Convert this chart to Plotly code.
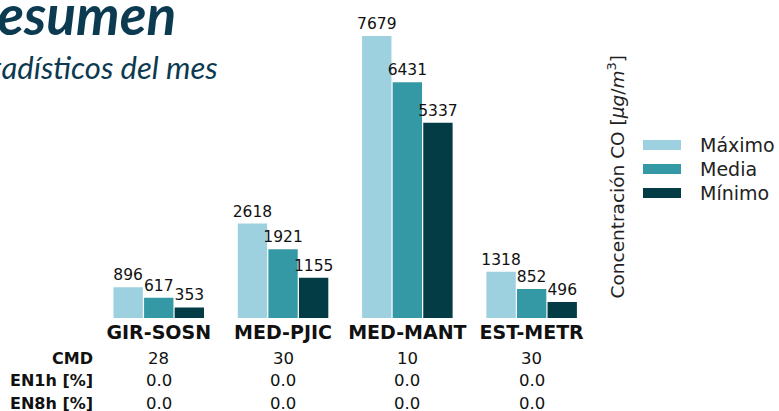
import plotly.graph_objects as go

stations = ["GIR-SOSN", "MED-PJIC", "MED-MANT", "EST-METR"]
maximo = [896, 2618, 7679, 1318]
media = [617, 1921, 6431, 852]
minimo = [353, 1155, 5337, 496]
row_labels = ["CMD", "EN1h [%]", "EN8h [%]"]
cmd = ["28", "30", "10", "30"]
en1h = ["0.0", "0.0", "0.0", "0.0"]
en8h = ["0.0", "0.0", "0.0", "0.0"]
series_names = ["Máximo", "Media", "Mínimo"]
colors = ["#9dd1df", "#3599a5", "#033c45"]

W, H = 779, 411
def py(y):
    return (H - y) / H
def px(x):
    return x / W

FONT = "DejaVu Sans"
fig = go.Figure()
for name, vals, col in zip(series_names, [maximo, media, minimo], colors):
    fig.add_trace(go.Bar(
        x=stations, y=vals, name=name, marker=dict(color=col, line=dict(width=0)),
        text=vals, texttemplate="%{y}", textposition="outside",
        textfont=dict(family=FONT, size=15.5, color="#111111"),
        constraintext="none", cliponaxis=False, showlegend=False,
    ))

SCALE = 0.03705  # px per unit
Y0 = 67.5
ytop_px = 3
fig.update_layout(
    width=W, height=H, margin=dict(l=0, r=0, t=0, b=0),
    paper_bgcolor="white", plot_bgcolor="white",
    barmode="group", bargap=0.262, bargroupgap=0.04,
    showlegend=False,
    xaxis=dict(domain=[px(96.6), px(593.8)], range=[-0.5, 3.5], showgrid=False,
               zeroline=False, showline=False, ticks="",
               tickfont=dict(family=FONT, size=19, color="#111111", weight="bold"),
               ticklabelstandoff=1),
    yaxis=dict(domain=[py(318), py(ytop_px)], range=[Y0, Y0 + (318 - ytop_px) / SCALE], showgrid=False,
               zeroline=False, showline=False, showticklabels=False, ticks=""),
)

annotations = []
# Title and subtitle (clipped at left edge)
annotations.append(dict(text="<b><i>Resumen</i></b>", x=px(-36), y=py(49), xref="paper", yref="paper",
                        xanchor="left", yanchor="bottom", showarrow=False,
                        font=dict(family="Lato", size=55, color="#0c3a50")))
annotations.append(dict(text="<i>Estadísticos del mes</i>", x=px(-40), y=py(88), xref="paper", yref="paper",
                        xanchor="left", yanchor="bottom", showarrow=False,
                        font=dict(family="Lato", size=31, color="#0c3a50")))
# Y axis title on right
annotations.append(dict(text="Concentración CO [<i>μg</i>/<i>m</i><sup>3</sup>]", x=px(616), y=py(177.5),
                        xref="paper", yref="paper", textangle=-90, showarrow=False,
                        xanchor="center", yanchor="middle",
                        font=dict(family=FONT, size=18.5, color="#222222")))
# Custom legend
shapes = []
for i, (name, col) in enumerate(zip(series_names, colors)):
    yc = 145 + 24 * i
    shapes.append(dict(type="rect", xref="paper", yref="paper", x0=px(643), x1=px(681),
                       y0=py(yc + 5), y1=py(yc - 5), fillcolor=col, line=dict(width=0)))
    annotations.append(dict(text=name, x=px(698), y=py(yc), xref="paper", yref="paper",
                            xanchor="left", yanchor="middle", showarrow=False,
                            font=dict(family=FONT, size=19, color="#222222")))
# Table
rows = [cmd, en1h, en8h]
row_y = [358, 380.5, 403]
for lab, vals, yy in zip(row_labels, rows, row_y):
    annotations.append(dict(text="<b>" + lab + "</b>", x=px(95), y=py(yy), xref="paper", yref="paper",
                            xanchor="right", yanchor="middle", showarrow=False,
                            font=dict(family=FONT, size=16, color="#111111")))
    for st, v in zip(stations, vals):
        annotations.append(dict(text=v, x=st, y=py(yy), xref="x", yref="paper",
                                xanchor="center", yanchor="middle", showarrow=False,
                                font=dict(family=FONT, size=16.5, color="#111111")))

fig.update_layout(annotations=annotations, shapes=shapes)
fig.write_html("out.html", config={"displayModeBar": False},
               post_script="document.body.style.margin='0';document.body.style.overflow='hidden';")
